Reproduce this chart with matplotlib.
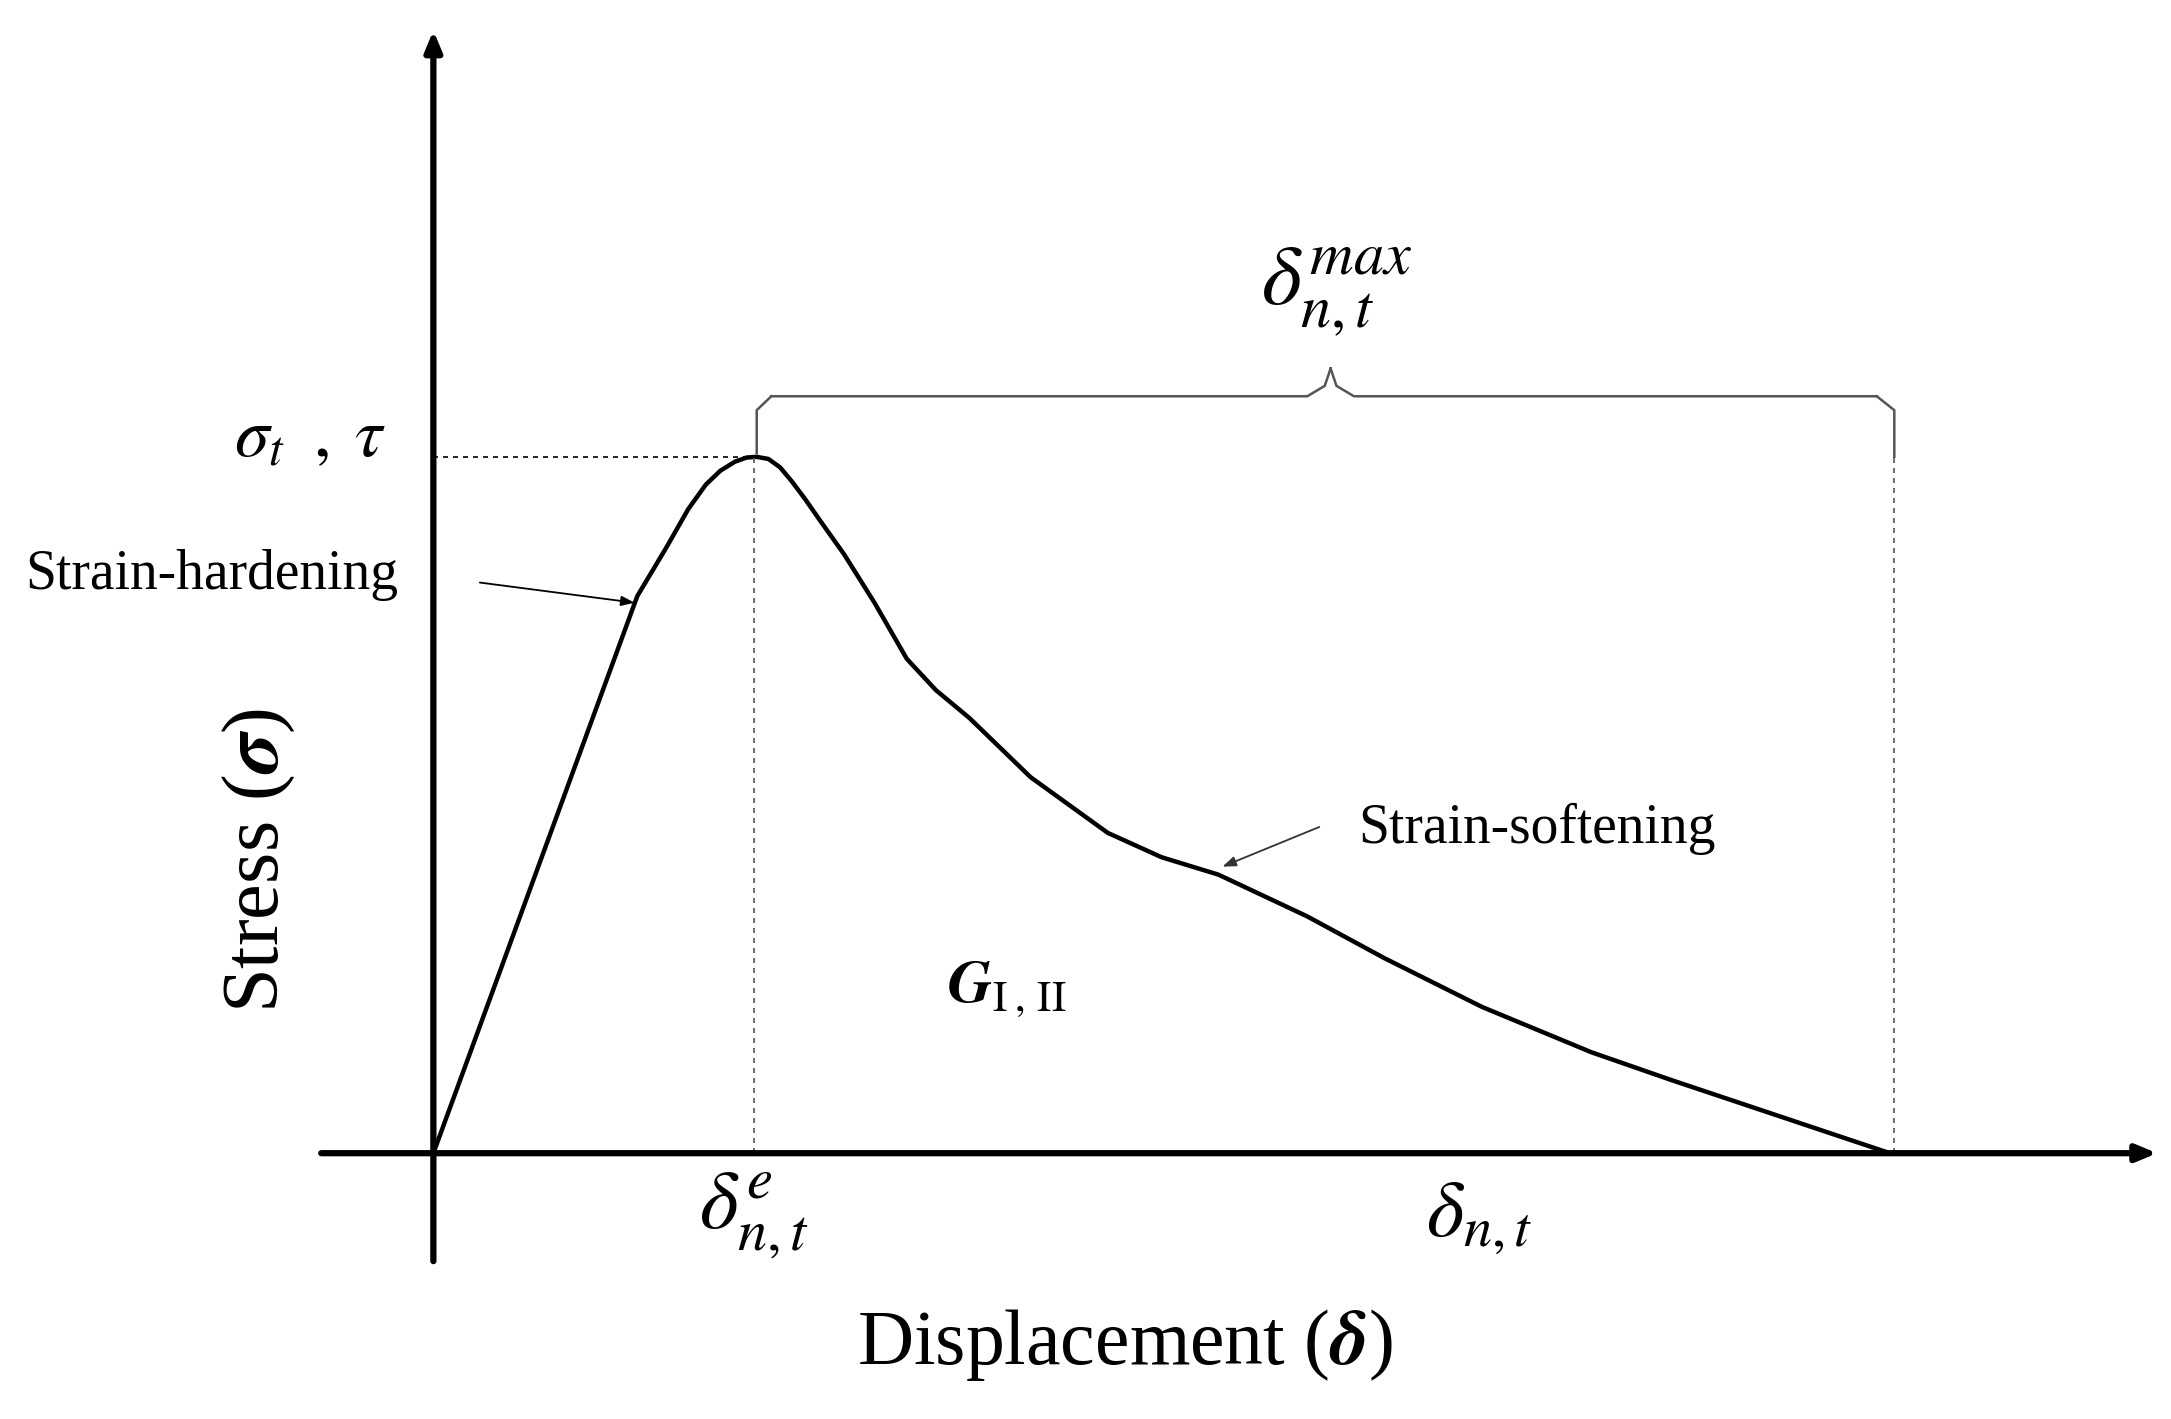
import matplotlib
matplotlib.use("Agg")
import matplotlib.pyplot as plt
import numpy as np

plt.rcParams['font.family'] = ['Liberation Serif', 'DejaVu Serif']
plt.rcParams['mathtext.fontset'] = 'stix'

# normalized displacement / stress of the schematic curve
disp = [0, 0.07, 0.14, 0.16, 0.175, 0.187, 0.197, 0.207, 0.215, 0.222, 0.230, 0.238, 0.246,
        0.255, 0.265, 0.282, 0.303, 0.325, 0.345, 0.368, 0.41, 0.463, 0.50, 0.539, 0.60,
        0.653, 0.72, 0.795, 0.85, 0.90, 0.95, 1.0]
stress = [0, 0.40, 0.80, 0.87, 0.925, 0.96, 0.98, 0.993, 0.999, 1.0, 0.997, 0.985, 0.965,
          0.94, 0.91, 0.86, 0.79, 0.71, 0.665, 0.625, 0.54, 0.46, 0.425, 0.40, 0.34,
          0.28, 0.21, 0.145, 0.105, 0.07, 0.035, 0]
d_e = 0.22
d_max = 1.003

W, H = 2171, 1419
fig = plt.figure(figsize=(W/100, H/100), dpi=100)
ax = fig.add_axes([0, 0, 1, 1])
sx, sy = 1052, 503
ax.set_xlim(-313/sx, (1568-313)/sx)
ax.set_ylim((833-1025)/sy, 833/sy)
ax.axis('off')

ax.plot(disp, stress, color='black', lw=3.2, solid_capstyle='round', solid_joinstyle='round')

# axes arrows
ax.annotate('', xy=(-0.0, 833/sy - 20/sy), xytext=(0, -80/sy),
            arrowprops=dict(arrowstyle='-|>,head_width=0.5,head_length=1.2', lw=4.5, color='black'))
ax.annotate('', xy=(1247/sx, 0), xytext=(-83/sx, 0),
            arrowprops=dict(arrowstyle='-|>,head_width=0.5,head_length=1.2', lw=4.5, color='black'))

# dotted guides
ax.plot([0, d_e], [1, 1], ls=(0, (3, 3)), color='black', lw=1.2)
ax.plot([d_e, d_e], [0, 1], ls=(0, (3, 3)), color='#555555', lw=1.2)
ax.plot([d_max, d_max], [0, 1.0], ls=(0, (3, 3)), color='#555555', lw=1.2)

# brace
by = 1.087
ax.plot([d_e+0.002, d_e+0.002, d_e+0.012], [1.005, by-0.02, by], color='#555555', lw=1.8)
ax.plot([d_e+0.012, 0.60, 0.612, 0.616], [by, by, by+0.015, by+0.04], color='#555555', lw=1.8)
ax.plot([0.616, 0.620, 0.632, d_max-0.012], [by+0.04, by+0.015, by, by], color='#555555', lw=1.8)
ax.plot([d_max-0.012, d_max, d_max], [by, by-0.02, 1.0], color='#555555', lw=1.8)

ax.text(0.62, 1.17, r'$\delta_{n,t}^{max}$', fontsize=62, ha='center', va='bottom')
ax.text(-0.085, 1.025, r'$\sigma_t\;\;,\;\tau$', fontsize=50, ha='center', va='center')
ax.text(d_e, -0.09, r'$\delta_{n,t}^{e}$', fontsize=60, ha='center', va='center')
ax.text(0.718, -0.095, r'$\delta_{n,t}$', fontsize=58, ha='center', va='center')
ax.text(0.394, 0.235, r'$\boldsymbol{G}_{\mathrm{I\;,\,II}}$', fontsize=44, ha='center', va='center')
ax.text(0.475, -0.275, r'Displacement ($\boldsymbol{\delta}$)', fontsize=56, ha='center', va='center')
ax.text(-0.12, 0.42, r'Stress ($\boldsymbol{\sigma}$)', fontsize=58, ha='center', va='center', rotation=90)

ax.text(-0.28, 0.83, 'Strain-hardening', fontsize=40, ha='left', va='center')
ax.annotate('', xy=(0.14, 0.79), xytext=(0.03, 0.82),
            arrowprops=dict(arrowstyle='-|>,head_width=0.3,head_length=0.8', lw=1.3, color='black'))
ax.text(0.635, 0.465, 'Strain-softening', fontsize=40, ha='left', va='center')
ax.annotate('', xy=(0.54, 0.41), xytext=(0.61, 0.47),
            arrowprops=dict(arrowstyle='-|>,head_width=0.3,head_length=0.8', lw=1.3, color='#333333'))

fig.savefig('out.png', dpi=100)
